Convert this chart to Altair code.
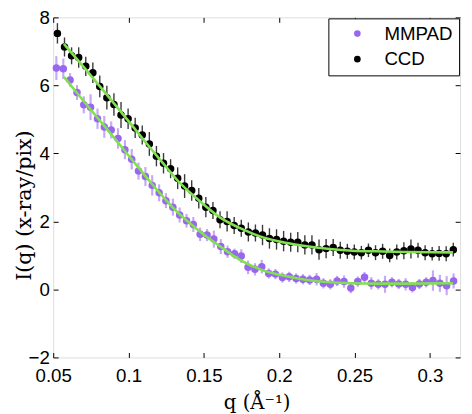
import altair as alt
import pandas as pd

# ---------------- data ----------------
mmpad_q = [0.0521, 0.0567, 0.0612, 0.0658, 0.0703, 0.0748, 0.0794, 0.0839, 0.0885, 0.0930,
           0.0976, 0.1021, 0.1066, 0.1112, 0.1157, 0.1203, 0.1248, 0.1294, 0.1339, 0.1385,
           0.1430, 0.1475, 0.1521, 0.1566, 0.1612, 0.1657, 0.1703, 0.1748, 0.1793, 0.1839,
           0.1884, 0.1930, 0.1975, 0.2021, 0.2066, 0.2112, 0.2157, 0.2202, 0.2248, 0.2293,
           0.2339, 0.2384, 0.2430, 0.2475, 0.2521, 0.2566, 0.2611, 0.2657, 0.2702, 0.2748,
           0.2793, 0.2839, 0.2884, 0.2930, 0.2975, 0.3020, 0.3066, 0.3111, 0.3157]
mmpad_I = [6.51, 6.49, 6.16, 5.79, 5.43, 5.36, 5.02, 4.78, 4.69, 4.44,
           4.11, 3.83, 3.48, 3.32, 3.06, 2.84, 2.61, 2.42, 2.19, 2.02,
           1.91, 1.62, 1.60, 1.48, 1.26, 1.11, 1.05, 0.98, 0.65, 0.59,
           0.67, 0.47, 0.45, 0.35, 0.37, 0.32, 0.30, 0.28, 0.30, 0.18,
           0.15, 0.25, 0.23, 0.04, 0.23, 0.36, 0.18, 0.15, 0.15, 0.21,
           0.16, 0.15, 0.06, 0.16, 0.21, 0.26, 0.18, 0.11, 0.25]
mmpad_err = [0.35, 0.30, 0.20, 0.22, 0.25, 0.38, 0.30, 0.32, 0.25, 0.30,
             0.28, 0.30, 0.25, 0.28, 0.30, 0.25, 0.22, 0.25, 0.22, 0.20,
             0.22, 0.20, 0.18, 0.25, 0.22, 0.18, 0.15, 0.20, 0.20, 0.18,
             0.20, 0.15, 0.15, 0.15, 0.15, 0.15, 0.15, 0.15, 0.18, 0.15,
             0.15, 0.15, 0.18, 0.15, 0.15, 0.15, 0.18, 0.15, 0.25, 0.15,
             0.15, 0.18, 0.15, 0.15, 0.15, 0.30, 0.25, 0.28, 0.22]

ccd_q = [0.0528, 0.0575, 0.0622, 0.0669, 0.0716, 0.0763, 0.0809, 0.0856, 0.0903, 0.0950,
         0.0997, 0.1044, 0.1091, 0.1138, 0.1185, 0.1232, 0.1279, 0.1326, 0.1372, 0.1419,
         0.1466, 0.1513, 0.1560, 0.1607, 0.1654, 0.1701, 0.1748, 0.1795, 0.1842, 0.1889,
         0.1935, 0.1982, 0.2029, 0.2076, 0.2123, 0.2170, 0.2217, 0.2264, 0.2311, 0.2358,
         0.2405, 0.2452, 0.2498, 0.2545, 0.2592, 0.2639, 0.2686, 0.2733, 0.2780, 0.2827,
         0.2874, 0.2921, 0.2968, 0.3015, 0.3061, 0.3108, 0.3155]
ccd_I = [7.53, 7.13, 6.87, 6.82, 6.56, 6.37, 5.97, 5.64, 5.44, 5.13,
         5.02, 4.75, 4.54, 4.28, 3.92, 3.71, 3.55, 3.27, 3.04, 2.91,
         2.68, 2.42, 2.32, 2.05, 2.00, 1.88, 1.80, 1.69, 1.66, 1.60,
         1.50, 1.47, 1.42, 1.39, 1.39, 1.31, 1.31, 1.17, 1.20, 1.23,
         1.15, 1.12, 1.10, 1.08, 1.15, 1.08, 1.12, 1.00, 1.10, 1.14,
         1.19, 1.15, 1.08, 1.05, 1.06, 1.05, 1.17]
ccd_err = [0.30, 0.28, 0.25, 0.30, 0.28, 0.30, 0.32, 0.35, 0.33, 0.38,
           0.30, 0.30, 0.28, 0.35, 0.30, 0.30, 0.28, 0.32, 0.35, 0.30,
           0.30, 0.30, 0.25, 0.25, 0.30, 0.25, 0.25, 0.28, 0.25, 0.30,
           0.30, 0.30, 0.30, 0.28, 0.30, 0.28, 0.28, 0.30, 0.28, 0.25,
           0.25, 0.22, 0.22, 0.20, 0.20, 0.22, 0.22, 0.20, 0.22, 0.25,
           0.28, 0.22, 0.22, 0.20, 0.22, 0.22, 0.20]

fit_q = [0.0571, 0.0700, 0.0850, 0.1000, 0.1150, 0.1250, 0.1318, 0.1469, 0.1606, 0.1751,
         0.1892, 0.2032, 0.2184, 0.2336, 0.2487, 0.2638, 0.2833, 0.3154]
ccd_fit = [7.22, 6.55, 5.76, 4.95, 4.13, 3.60, 3.24, 2.61, 2.12, 1.78,
           1.53, 1.38, 1.27, 1.19, 1.14, 1.12, 1.10, 1.09]
mmpad_fit = [6.25, 5.55, 4.75, 3.94, 3.13, 2.62, 2.30, 1.72, 1.27, 0.84,
             0.56, 0.40, 0.28, 0.21, 0.18, 0.17, 0.17, 0.18]

series_names = ["MMPAD", "CCD"]
x_ticks = [0.05, 0.1, 0.15, 0.2, 0.25, 0.3]
y_ticks = [-2, 0, 2, 4, 6, 8]

# ---------------- tables ----------------
mm = pd.DataFrame({"q": mmpad_q, "I": mmpad_I, "err": mmpad_err, "series": "MMPAD"})
cc = pd.DataFrame({"q": ccd_q, "I": ccd_I, "err": ccd_err, "series": "CCD"})
for d in (mm, cc):
    d["lo"] = d["I"] - d["err"]
    d["hi"] = d["I"] + d["err"]
pts = pd.concat([mm, cc], ignore_index=True)
fits = pd.concat([
    pd.DataFrame({"q": fit_q, "I": mmpad_fit, "series": "MMPAD"}),
    pd.DataFrame({"q": fit_q, "I": ccd_fit, "series": "CCD"}),
], ignore_index=True)

PURPLE = "#9966ee"
PURPLE_LIGHT = "#c6a8f4"
GREEN = "#80e050"
SANS = "Liberation Sans"
SERIF = "DejaVu Serif"

xs = alt.Scale(domain=[0.05, 0.32], nice=False, zero=False)
ys = alt.Scale(domain=[-2, 8], nice=False, zero=False)

common_axis = dict(grid=False, domain=False, tickSize=5, offset=-5, tickColor="black",
                   tickWidth=1, labelFont=SANS, labelFontSize=19, labelColor="black")

x_bottom = alt.Axis(values=x_ticks, format="~g", labelPadding=9, title="q (Å⁻¹)",
                    titleFont=SERIF, titleFontSize=20, titleFontWeight="normal",
                    titleColor="black", titlePadding=8, labelFlush=False, **common_axis)
y_left = alt.Axis(values=y_ticks, format="~g", labelPadding=4, title="I(q) (x-ray/pix)",
                  titleFont=SERIF, titleFontSize=21, titleFontWeight="normal",
                  titleColor="black", titleAngle=270, titleX=-24, titleY=191,
                  titleAlign="center", titleBaseline="bottom", labelFlush=False, **common_axis)
x_top = alt.Axis(orient="top", values=x_ticks, labels=False, title=None, **common_axis)
y_right = alt.Axis(orient="right", values=y_ticks, labels=False, title=None, **common_axis)

err_mm = alt.Chart(mm).mark_rule(color=PURPLE_LIGHT, strokeWidth=2.2).encode(
    x=alt.X("q:Q", scale=xs, axis=None),
    y=alt.Y("lo:Q", scale=ys, axis=None),
    y2="hi:Q",
)
err_cc = alt.Chart(cc).mark_rule(color="#3a3a3a", strokeWidth=1.4).encode(
    x=alt.X("q:Q", scale=xs, axis=None),
    y=alt.Y("lo:Q", scale=ys, axis=None),
    y2="hi:Q",
)
points = alt.Chart(pts).mark_circle(size=58, opacity=1).encode(
    x=alt.X("q:Q", scale=xs, axis=x_bottom),
    y=alt.Y("I:Q", scale=ys, axis=y_left),
    color=alt.Color(
        "series:N",
        scale=alt.Scale(domain=series_names, range=[PURPLE, "black"]),
        legend=alt.Legend(
            title=None, orient="top-right", offset=1,
            strokeColor="black", fillColor="white", padding=6,
            symbolType="circle", symbolSize=45, symbolOffset=14,
            labelFont=SANS, labelFontSize=19, labelColor="black",
            labelOffset=18, rowPadding=6, cornerRadius=0,
        ),
    ),
)
fit_lines = alt.Chart(fits).mark_line(color=GREEN, strokeWidth=2.6, interpolate="monotone").encode(
    x=alt.X("q:Q", scale=xs, axis=x_top),
    y=alt.Y("I:Q", scale=ys, axis=y_right),
    detail="series:N",
)

chart = alt.layer(err_mm, err_cc, points, fit_lines).resolve_axis(
    x="independent", y="independent"
).properties(
    width=414, height=346,
    autosize=alt.AutoSizeParams(type="none"),
    padding={"left": 46, "top": 6, "right": 4, "bottom": 54},
).configure_view(stroke="black", strokeWidth=1, fill="white").configure(background="white")

chart.save("out.html", embed_options={"renderer": "svg", "actions": False})
